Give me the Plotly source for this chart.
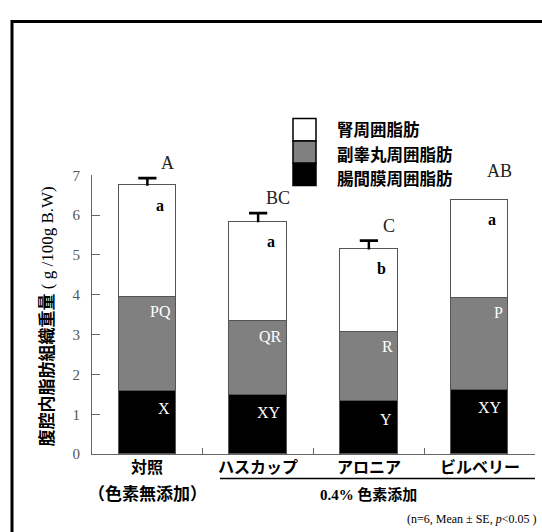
import plotly.graph_objects as go

# ---- data -------------------------------------------------------------
groups = ["対照", "ハスカップ", "アロニア", "ビルベリー"]
group_sub = ["（色素無添加）", "", "", ""]
series_names = ["腸間膜周囲脂肪", "副睾丸周囲脂肪", "腎周囲脂肪"]
mesenteric = [1.58, 1.49, 1.32, 1.60]
epididymal = [2.36, 1.84, 1.75, 2.32]
perirenal = [2.80, 2.49, 2.07, 2.46]
total_se = [0.19, 0.23, 0.22, None]
mesenteric_sig = ["X", "XY", "Y", "XY"]
epididymal_sig = ["PQ", "QR", "R", "P"]
perirenal_sig = ["a", "a", "b", "a"]
total_sig = ["A", "BC", "C", "AB"]
y_ticks = [0, 1, 2, 3, 4, 5, 6, 7]

W, H = 542, 532
SERIF = "Liberation Serif, Times New Roman, serif"
CJK = "Noto Sans CJK JP, sans-serif"
BAR_W = 0.52


def px(x):
    return x / W


def py(y):
    return 1 - y / H


xs = list(range(len(groups)))
fig = go.Figure()

colors = ["#000000", "#808080", "#ffffff"]
stacks = [mesenteric, epididymal, perirenal]
for name, vals, col in zip(series_names, stacks, colors):
    fig.add_trace(go.Bar(
        x=xs, y=vals, name=name, width=BAR_W,
        marker=dict(color=col, line=dict(color="#555555", width=1.2)),
        showlegend=False, hoverinfo="skip",
    ))

tops1 = mesenteric
tops2 = [a + b for a, b in zip(mesenteric, epididymal)]
tops3 = [a + b + c for a, b, c in zip(mesenteric, epididymal, perirenal)]

# upper-only error bars: stem + cap
stem_x, stem_y, cap_x, cap_y = [], [], [], []
for i, se in enumerate(total_se):
    if se is None:
        continue
    stem_x += [i, i, None]
    stem_y += [tops3[i], tops3[i] + se, None]
    cap_x.append(i)
    cap_y.append(tops3[i] + se)
fig.add_trace(go.Scatter(x=stem_x, y=stem_y, mode="lines",
                         line=dict(color="#000000", width=2.5),
                         showlegend=False, hoverinfo="skip"))
fig.add_trace(go.Scatter(x=cap_x, y=cap_y, mode="markers",
                         marker=dict(symbol="line-ew", size=13,
                                     line=dict(color="#000000", width=2.8)),
                         showlegend=False, hoverinfo="skip"))

ann = []
for i in xs:
    # segment significance letters, right aligned inside each segment
    ann.append(dict(x=i + BAR_W / 2, y=tops1[i], xref="x", yref="y",
                    text=mesenteric_sig[i], showarrow=False, xanchor="right",
                    yanchor="top", xshift=-4, yshift=-7,
                    font=dict(family=SERIF, size=16, color="#ffffff")))
    ann.append(dict(x=i + BAR_W / 2, y=tops2[i], xref="x", yref="y",
                    text=epididymal_sig[i], showarrow=False, xanchor="right",
                    yanchor="top", xshift=-3, yshift=-4,
                    font=dict(family=SERIF, size=16, color="#ffffff")))
    ann.append(dict(x=i + BAR_W / 2, y=tops3[i], xref="x", yref="y",
                    text="<b>" + perirenal_sig[i] + "</b>", showarrow=False,
                    xanchor="right", yanchor="top", xshift=-10, yshift=-9,
                    font=dict(family=SERIF, size=16, color="#000000")))
    # total significance letters above each bar
    se = total_se[i] if total_se[i] is not None else 0.35
    ann.append(dict(x=i, y=tops3[i] + se, xref="x", yref="y",
                    text=total_sig[i], showarrow=False, xanchor="center",
                    yanchor="bottom", xshift=20, yshift=3,
                    font=dict(family=SERIF, size=18, color="#222222")))
    # category labels
    ann.append(dict(x=i, y=py(472), xref="x", yref="paper",
                    text="<b>" + groups[i] + "</b>", showarrow=False,
                    xanchor="center", yanchor="middle",
                    font=dict(family=CJK, size=16, color="#000000")))
    if group_sub[i]:
        ann.append(dict(x=i, y=py(500), xref="x", yref="paper",
                        text="<b>" + group_sub[i] + "</b>", showarrow=False,
                        xanchor="center", yanchor="middle",
                        font=dict(family=CJK, size=17, color="#000000")))

# pigment-added group caption
ann.append(dict(x=2, y=py(501), xref="x", yref="paper",
                text="<b><span style='font-family:Liberation Serif'>0.4%</span> 色素添加</b>",
                showarrow=False, xanchor="center", yanchor="middle",
                font=dict(family=CJK, size=15, color="#000000")))

# footnote
ann.append(dict(x=px(538), y=py(527), xref="paper", yref="paper",
                text="(n=6, Mean ± SE, <i>p</i><0.05 )", showarrow=False,
                xanchor="right", yanchor="middle",
                font=dict(family=SERIF, size=12, color="#000000")))

# y-axis title
ann.append(dict(x=px(45), y=py(318), xref="paper", yref="paper",
                text="<b>腹腔内脂肪組織重量</b><span style='font-family:Liberation Serif'> ( g /100g B.W)</span>",
                textangle=-90, showarrow=False, xanchor="center", yanchor="middle",
                font=dict(family=CJK, size=17, color="#000000")))

# legend (stacked swatches, top entry = top segment)
shapes = []
legend_order = list(reversed(series_names))
legend_cols = list(reversed(colors))
box_x0, box_x1 = 293, 316
box_top, box_h = 114, 23
text_y = [125, 151, 175]
for k, (name, col) in enumerate(zip(legend_order, legend_cols)):
    y0 = box_top + k * box_h
    shapes.append(dict(type="rect", xref="paper", yref="paper",
                       x0=px(box_x0), x1=px(box_x1), y0=py(y0), y1=py(y0 + box_h),
                       fillcolor=col, line=dict(color="#000000", width=1.5)))
    ann.append(dict(x=px(335), y=py(text_y[k]), xref="paper", yref="paper",
                    text="<b>" + name + "</b>", showarrow=False,
                    xanchor="left", yanchor="middle",
                    font=dict(family=CJK, size=16.5, color="#000000")))

# underline grouping the pigment-added samples
shapes.append(dict(type="line", xref="paper", yref="paper",
                   x0=px(220), x1=px(535), y0=py(485), y1=py(485),
                   line=dict(color="#000000", width=1.5)))

# outer frame
shapes.append(dict(type="rect", xref="paper", yref="paper",
                   x0=px(12), x1=1.2, y0=-0.2, y1=py(14),
                   line=dict(color="#000000", width=3), fillcolor="rgba(0,0,0,0)"))

fig.update_layout(
    width=W, height=H,
    margin=dict(l=0, r=0, t=0, b=0),
    paper_bgcolor="#ffffff", plot_bgcolor="#ffffff",
    barmode="stack", bargap=0,
    annotations=ann, shapes=shapes,
    xaxis=dict(
        domain=[px(92), px(535)], range=[-0.5, 3.5],
        tickvals=[0.5, 1.5, 2.5, 3.5], ticks="inside", ticklen=6,
        tickcolor="#666666", showticklabels=False, showgrid=False,
        zeroline=False, showline=True, linecolor="#666666", linewidth=1,
        fixedrange=True,
    ),
    yaxis=dict(
        domain=[py(460), py(172.5)], range=[0, 7],
        tickvals=y_ticks, ticks="inside", ticklen=8, tickcolor="#666666",
        showgrid=False, zeroline=False, showline=True, linecolor="#666666",
        linewidth=1, ticklabelstandoff=8,
        tickfont=dict(family=SERIF, size=15, color="#555555"),
        fixedrange=True,
    ),
)

fig.write_html("out.html")
